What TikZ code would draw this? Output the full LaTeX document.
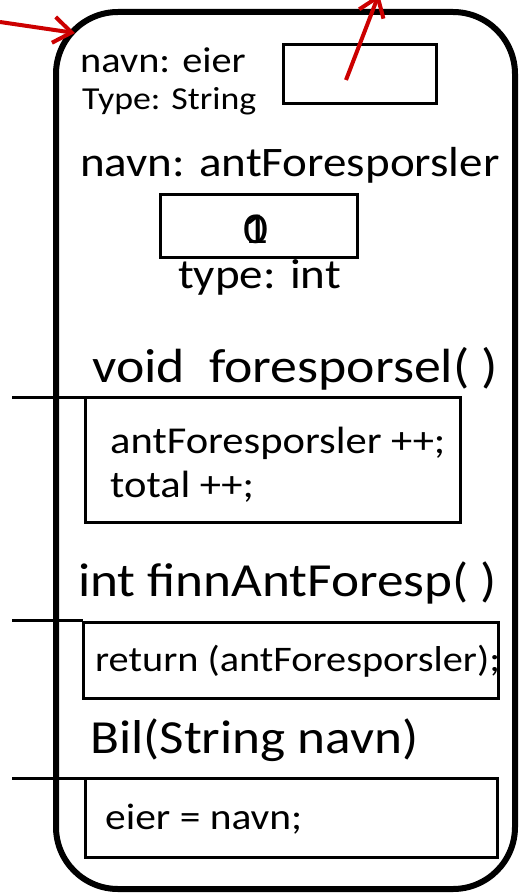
\documentclass[tikz,border=0pt]{standalone}
\usepackage{fontspec}
\setmainfont{Carlito}
\usetikzlibrary{arrows.meta}
\definecolor{refred}{RGB}{204,0,0}
% the labels are set slightly wide
\newcommand\widetext[1]{\scalebox{1.12}[1]{#1}}
\tikzset{
  objbox/.style={draw=black, line width=6pt, rounded corners=62pt},
  valbox/.style={draw=black, line width=3pt, outer sep=0pt, inner sep=0pt},
  lbl/.style={anchor=base west, inner sep=0pt, font=\fontsize{#1}{#1}\selectfont},
  lbl/.default=40,
  digit/.style={inner sep=0pt, font=\fontsize{44}{44}\selectfont},
  ref/.style={draw=refred, line width=4pt, -{Straight Barb[length=18pt,width=26pt,line width=4pt]}},
  stub/.style={draw=black, line width=3pt}
}
\begin{document}
\begin{tikzpicture}[x=1pt,y=-1pt]
\useasboundingbox (0,0) rectangle (529,893);
% object frame
\draw[objbox] (56,12) rectangle (515,889);

% field: eier
\node[lbl=36] (eiername) at (80,73) {\widetext{navn: eier}};
\node[lbl=32] (eiertype) at (82,110) {\widetext{Type: String}};
\draw[valbox] (283,45) rectangle (436,104);
\coordinate (eierval) at (346,80);

% field: antForesporsler
\node[lbl=42] (antname) at (80,177) {\widetext{navn: antForesporsler}};
\node[valbox, minimum width=197pt, minimum height=62pt] (antbox) at (258.5,226) {};
\node[digit] (antval0) at (256,229) {\widetext{0}};
\node[digit] (antval1) at (256,229) {\widetext{1}};
\node[lbl=42] (anttype) at (178,288) {\widetext{type: int}};

% method: foresporsel
\node[lbl=48] (m1name) at (92,382) {\widetext{void\ \ foresporsel( )}};
\node[valbox, minimum width=375pt, minimum height=125pt] (m1body) at (272.5,459.5) {};
\node[lbl=38] (m1l1) at (110,453) {\widetext{antForesporsler ++;}};
\node[lbl=38] (m1l2) at (110,497) {\widetext{total ++;}};
\coordinate (m1in) at (12,397);
\draw[stub] (m1in) -- (m1in -| m1body.west);

% method: finnAntForesp
\node[lbl=47.5] (m2name) at (78,596) {\widetext{int finnAntForesp( )}};
\node[valbox, minimum width=415pt, minimum height=76pt] (m2body) at (290.5,660) {};
\node[lbl=36] (m2l1) at (95,671) {\widetext{return (antForesporsler);}};
\coordinate (m2in) at (12,620);
\draw[stub] (m2in) -- (m2in -| m2body.west);

% constructor
\node[lbl=47.5] (m3name) at (90,753) {\widetext{Bil(String navn)}};
\node[valbox, minimum width=412pt, minimum height=79pt] (m3body) at (291,817.5) {};
\node[lbl=37] (m3l1) at (105,829) {\widetext{eier = navn;}};
\coordinate (m3in) at (12,778);
\draw[stub] (m3in) -- (m3in -| m3body.west);

% references
\coordinate (refsrc) at (0,22);
\coordinate (refdst) at (75,33);
\draw[ref] (refsrc) -- (refdst);
\coordinate (refout) at (379,-6);
\draw[ref] (eierval) -- (refout);
\end{tikzpicture}
\end{document}
